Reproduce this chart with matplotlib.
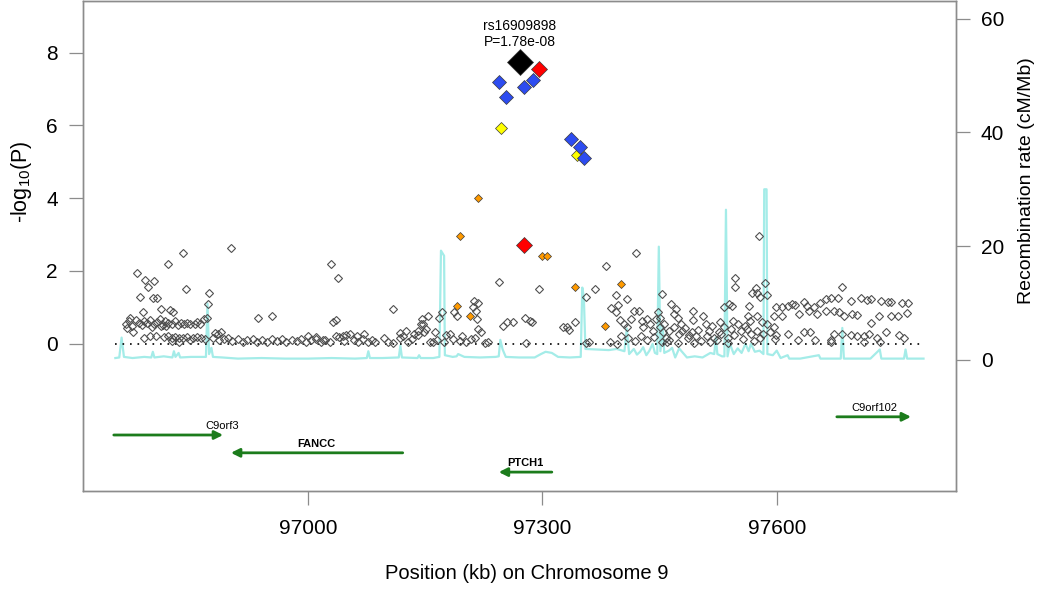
import matplotlib
matplotlib.use("Agg")
import matplotlib.pyplot as plt

plt.rcParams['font.family'] = ['Liberation Sans', 'DejaVu Sans']
plt.rcParams['mathtext.default'] = 'regular'

# grey SNPs (position kb, -log10 P)
grey = [
    (96781, 1.95), (96791, 1.75), (96802, 1.72), (96795, 1.57), (96785, 1.28), (96801, 1.25), (96806, 1.26),
    (96788, 0.88), (96776, 0.31), (96821, 2.19), (96839, 2.50), (96844, 1.50), (96812, 0.95), (96823, 0.93),
    (96827, 0.86), (96873, 1.39), (96872, 1.09), (96870, 0.72), (96867, 0.68), (96901, 2.63),
    (96766, 0.55), (96770, 0.62), (96774, 0.50), (96779, 0.66), (96783, 0.58), (96787, 0.52), (96790, 0.63),
    (96794, 0.58), (96798, 0.66), (96802, 0.55), (96806, 0.60), (96810, 0.68), (96814, 0.52), (96817, 0.62),
    (96821, 0.58), (96825, 0.55), (96829, 0.62), (96833, 0.52), (96837, 0.58), (96841, 0.55), (96845, 0.56),
    (96849, 0.54), (96855, 0.54), (96862, 0.54), (96858, 0.60), (96800, 0.45), (96812, 0.48), (96818, 0.50),
    (96768, 0.42), (96772, 0.72),
    (96815, 0.18), (96820, 0.20), (96826, 0.16), (96830, 0.19), (96835, 0.15), (96840, 0.17), (96845, 0.18),
    (96852, 0.17), (96858, 0.19), (96863, 0.17), (96868, 0.14), (96825, 0.08), (96835, 0.05), (96848, 0.10),
    (96797, 0.20), (96790, 0.15), (96805, 0.22),
    (96880, 0.30), (96884, 0.28), (96888, 0.32), (96878, 0.15), (96886, 0.10), (96892, 0.12),
    (96936, 0.70), (96953, 0.75), (97029, 2.18), (97038, 1.81), (97032, 0.61), (97036, 0.66), (97053, 0.28),
    (97036, 0.20), (97045, 0.22), (97040, 0.18),
    (96897, 0.15), (96903, 0.08), (96910, 0.12), (96916, 0.05), (96922, 0.10), (96929, 0.14), (96934, 0.06),
    (96941, 0.10), (96947, 0.04), (96953, 0.12), (96960, 0.08), (96966, 0.13), (96972, 0.05), (96979, 0.10),
    (96985, 0.07), (96991, 0.12), (96997, 0.04), (97003, 0.10), (97010, 0.14), (97016, 0.06), (97022, 0.11),
    (97028, 0.05), (97046, 0.08), (97058, 0.10), (97064, 0.05), (97070, 0.12), (97076, 0.06), (97082, 0.10),
    (97086, 0.04), (97097, 0.17), (97102, 0.06), (97109, 0.01), (97118, 0.17),
    (97049, 0.25), (97062, 0.20), (97071, 0.28), (97117, 0.30), (97121, 0.22), (97125, 0.35), (97000, 0.22),
    (97010, 0.19), (97019, 0.10),
    (97109, 0.95), (97146, 0.68), (97153, 0.75), (97144, 0.54), (97141, 0.36), (97148, 0.31), (97135, 0.27),
    (97133, 0.13), (97147, 0.54), (97140, 0.25), (97151, 0.40), (97162, 0.33), (97171, 0.88), (97168, 0.72),
    (97187, 0.88), (97190, 0.77), (97177, 0.25), (97182, 0.27), (97186, 0.13), (97197, 0.22), (97208, 0.13),
    (97213, 0.15), (97218, 0.40), (97221, 0.31), (97227, 0.02), (97230, 0.06), (97212, 1.17), (97217, 1.11),
    (97211, 1.00), (97215, 0.89), (97216, 0.68), (97156, 0.04), (97160, 0.04), (97244, 1.69), (97128, 0.05),
    (97165, 0.10), (97174, 0.05), (97194, 0.08), (97202, 0.04),
    (97249, 0.48), (97255, 0.61), (97262, 0.59), (97278, 0.72), (97284, 0.63), (97287, 0.61), (97279, 0.02),
    (97296, 1.51), (97326, 0.45), (97331, 0.45), (97334, 0.39), (97342, 0.59), (97356, 0.02), (97359, 0.04),
    (97356, 1.28), (97367, 1.51), (97382, 2.13), (97387, 0.04), (97395, 0.00), (97394, 1.34), (97388, 0.97),
    (97394, 0.88), (97397, 1.07), (97408, 1.23),
    (97399, 0.65), (97404, 0.54), (97408, 0.45), (97413, 0.68), (97417, 0.91), (97424, 0.89), (97427, 0.63),
    (97429, 0.45), (97434, 0.68), (97438, 0.54), (97441, 0.36), (97446, 0.68), (97448, 0.86), (97451, 0.45),
    (97455, 0.31), (97458, 0.17), (97400, 0.22), (97409, 0.16), (97419, 0.08), (97426, 0.22), (97434, 0.10),
    (97443, 0.19), (97453, 0.04), (97462, 0.10), (97420, 2.50), (97453, 1.37),
    (97577, 2.96), (97547, 1.80), (97547, 1.55), (97585, 1.67), (97587, 1.35), (97573, 1.53), (97568, 1.39),
    (97575, 1.39), (97579, 1.28), (97564, 1.04), (97543, 1.03), (97539, 1.09), (97533, 1.02), (97563, 0.75),
    (97575, 0.75), (97506, 0.77), (97493, 0.91), (97493, 0.65), (97473, 0.70), (97464, 1.09), (97471, 0.96),
    (97468, 0.82),
    (97451, 0.72), (97456, 0.54), (97462, 0.36), (97468, 0.45), (97475, 0.27), (97479, 0.36), (97486, 0.17),
    (97492, 0.31), (97496, 0.22), (97503, 0.08), (97509, 0.54), (97513, 0.36), (97520, 0.17), (97526, 0.31),
    (97533, 0.45), (97537, 0.17), (97541, 0.40), (97550, 0.54), (97554, 0.36), (97559, 0.50), (97567, 0.27),
    (97575, 0.36), (97579, 0.17), (97588, 0.54), (97592, 0.31), (97460, 0.04), (97473, 0.01), (97494, 0.01),
    (97515, 0.04), (97537, 0.01), (97571, 0.08),
    (97482, 0.42), (97488, 0.25), (97499, 0.38), (97511, 0.20), (97517, 0.48), (97523, 0.10), (97529, 0.28),
    (97545, 0.25), (97557, 0.12), (97562, 0.40), (97583, 0.28), (97596, 0.45), (97598, 0.12), (97581, 0.60),
    (97566, 0.62), (97544, 0.62), (97528, 0.60), (97478, 0.55),
    (97599, 1.02), (97607, 1.00), (97614, 1.05), (97620, 1.09), (97624, 1.07), (97635, 1.14), (97639, 1.05),
    (97648, 1.00), (97655, 1.11), (97663, 1.23), (97669, 1.26), (97678, 1.26), (97684, 1.55), (97695, 1.18),
    (97708, 1.26), (97716, 1.20), (97721, 1.23), (97733, 1.17), (97742, 1.16), (97746, 1.14), (97761, 1.12),
    (97768, 1.11),
    (97597, 0.77), (97607, 0.75), (97629, 0.82), (97641, 0.89), (97652, 0.82), (97663, 0.91), (97673, 0.91),
    (97680, 0.86), (97686, 0.77), (97697, 0.82), (97703, 0.80), (97721, 0.56), (97731, 0.77), (97746, 0.75),
    (97755, 0.75), (97767, 0.85),
    (97599, 0.25), (97614, 0.27), (97627, 0.10), (97635, 0.31), (97643, 0.31), (97649, 0.10), (97669, 0.10),
    (97673, 0.28), (97684, 0.28), (97695, 0.25), (97703, 0.22), (97712, 0.22), (97718, 0.27), (97729, 0.17),
    (97740, 0.31), (97757, 0.25), (97763, 0.17), (97669, 0.04), (97712, 0.04), (97732, 0.04),
]

orange = [(97217, 4.00), (97194, 2.96), (97300, 2.42), (97306, 2.42), (97342, 1.57), (97400, 1.63),
          (97191, 1.03), (97207, 0.75), (97380, 0.48)]
yellow = [(97247, 5.94), (97344, 5.20)]
blue = [(97244, 7.20), (97253, 6.77), (97276, 7.06), (97288, 7.26), (97336, 5.64), (97348, 5.41), (97353, 5.10)]
red_small = [(97296, 7.56)]
red_big = [(97276, 2.72)]
lead = (97271, 7.75)
lead_label = "rs16909898\nP=1.78e-08"

# recombination rate (kb, cM/Mb)
recomb = [
    (96753, 0.3), (96758, 0.4), (96761, 3.9), (96764, 0.5), (96775, 0.3), (96790, 0.5), (96799, 0.4),
    (96801, 1.4), (96803, 0.4), (96815, 0.6), (96826, 0.4), (96828, 1.5), (96830, 0.5), (96834, 1.2),
    (96836, 0.4), (96850, 0.5), (96869, 0.5), (96871, 9.9), (96873, 1.0), (96876, 2.1), (96878, 0.5),
    (96890, 0.4), (96910, 0.2), (96940, 0.3), (96970, 0.2), (97000, 0.2), (97030, 0.3), (97060, 0.2),
    (97075, 0.3), (97077, 1.5), (97079, 0.3), (97095, 0.3), (97116, 0.4), (97118, 2.5), (97120, 0.4),
    (97140, 0.3), (97142, 0.8), (97144, 0.3), (97160, 0.3), (97168, 0.5), (97170, 19.2), (97174, 18.3),
    (97175, 0.8), (97185, 0.5), (97190, 0.6), (97192, 1.0), (97200, 0.5), (97220, 0.4), (97240, 0.5),
    (97244, 0.6), (97246, 3.5), (97249, 1.8), (97253, 0.5), (97270, 0.4), (97290, 0.4), (97298, 1.0),
    (97304, 1.4), (97312, 1.2), (97320, 0.5), (97335, 0.4), (97349, 0.5), (97351, 12.7), (97353, 11.0),
    (97355, 1.9), (97370, 1.8), (97385, 1.7), (97395, 1.9), (97405, 1.5), (97408, 5.5), (97411, 1.0),
    (97417, 1.9), (97421, 0.9), (97425, 1.4), (97429, 2.2), (97433, 0.8), (97437, 1.6), (97441, 2.8),
    (97444, 1.2), (97447, 1.0), (97449, 19.9), (97451, 1.5), (97454, 6.0), (97456, 1.2), (97462, 1.6),
    (97466, 2.1), (97470, 0.4), (97475, 2.0), (97485, 0.4), (97495, 0.6), (97505, 0.4), (97515, 1.2),
    (97520, 1.0), (97522, 3.9), (97524, 1.0), (97530, 0.6), (97533, 0.6), (97535, 26.4), (97537, 0.6),
    (97540, 2.8), (97545, 1.0), (97550, 2.0), (97555, 1.2), (97560, 2.8), (97564, 1.5), (97567, 2.8),
    (97572, 1.4), (97578, 1.6), (97583, 1.0), (97584, 30.0), (97587, 30.0), (97588, 1.0), (97595, 0.8),
    (97600, 1.6), (97605, 0.3), (97614, 0.8), (97616, 0.2), (97630, 0.2), (97654, 0.8), (97656, 0.2),
    (97670, 0.2), (97682, 0.2), (97684, 5.6), (97686, 0.2), (97700, 0.2), (97720, 0.2), (97732, 1.8),
    (97734, 0.2), (97750, 0.2), (97763, 0.2), (97765, 1.8), (97767, 0.2), (97788, 0.2),
]

gene_names = ['C9orf3', 'FANCC', 'PTCH1', 'C9orf102']
gene_start = [96751, 96901, 97244, 97677]
gene_end = [96891, 97121, 97312, 97772]
gene_strand = ['+', '-', '-', '+']
gene_label_x = [96890, 97011, 97278, 97725]
gene_row = [-2.51, -3.0, -3.53, -2.01]

xticks = [97000, 97300, 97600]
yticks = [0, 2, 4, 6, 8]
rticks = [0, 20, 40, 60]

GREY = '#8c8c8c'

fig = plt.figure(figsize=(10.5, 5.92), dpi=100)
ax = fig.add_axes([0.079, 0.1706, 0.8314, 0.8269])
ax2 = ax.twinx()
ax.set_zorder(ax2.get_zorder() + 1)
ax.patch.set_visible(False)

rk, rr = zip(*recomb)
ax2.plot(rk, rr, color='#a4ece8', lw=1.6)

ax.plot([rk[0], rk[-1]], [0, 0], color='black', lw=1.2, ls=(0, (1, 3.5)))

gx, gy = zip(*grey)
ax.plot(gx, gy, 'D', ms=4.5, mfc='none', mec='#505050', mew=0.8, ls='none')


def pts(data, color, ms):
    x, y = zip(*data)
    ax.plot(x, y, 'D', ms=ms, mfc=color, mec='#3a3a3a', mew=0.5, ls='none')


pts(orange, '#ff9a00', 4.5)
pts(yellow, '#ffff00', 6.6)
pts(blue, '#2d4cf0', 7.0)
pts(red_small, '#ff0000', 8.4)
pts(red_big, '#ff0000', 8.6)
pts([lead], '#000000', 13.4)

ax.annotate(lead_label, xy=lead, xytext=(0, 9), textcoords='offset points',
            ha='center', va='bottom', fontsize=10, linespacing=1.25)

for name, s, e, strand, lx, row in zip(gene_names, gene_start, gene_end, gene_strand, gene_label_x, gene_row):
    head, tail = (e, s) if strand == '+' else (s, e)
    ax.annotate('', xy=(head, row), xytext=(tail, row),
                arrowprops=dict(arrowstyle='-|>,head_length=0.5,head_width=0.25',
                                color='#1c7c1c', lw=2.0, shrinkA=0, shrinkB=0,
                                mutation_scale=10))
    bold = 'bold' if name in ('FANCC', 'PTCH1') else 'normal'
    ax.text(lx, row + 0.1, name, ha='center', va='bottom', fontsize=8, fontweight=bold)

ax.set_xlim(96711.5, 97829.5)
ax.set_ylim(-4.05, 9.41)
ax2.set_ylim(-23.1, 63.05)

ax.set_xticks(xticks)
ax.set_yticks(yticks)
ax2.set_yticks(rticks)

for a in (ax, ax2):
    for sp in a.spines.values():
        sp.set_color(GREY)
        sp.set_linewidth(1.0)
    a.tick_params(length=10, width=0.9, color=GREY, labelsize=15, direction='out')
ax.tick_params(axis='x', pad=10)
ax.tick_params(axis='y', pad=8)
ax2.tick_params(axis='y', pad=8)

ax.set_xlabel('Position (kb) on Chromosome 9', fontsize=14.5)
ax.xaxis.set_label_coords(0.508, -0.15)
ax.set_ylabel('-log$_{10}$(P)', fontsize=15.5)
ax.yaxis.set_label_coords(-0.056, 0.631)
ax2.set_ylabel('Recombination rate (cM/Mb)', fontsize=14)
ax2.yaxis.set_label_coords(1.071, 0.635)

fig.savefig('out.png', dpi=100)
